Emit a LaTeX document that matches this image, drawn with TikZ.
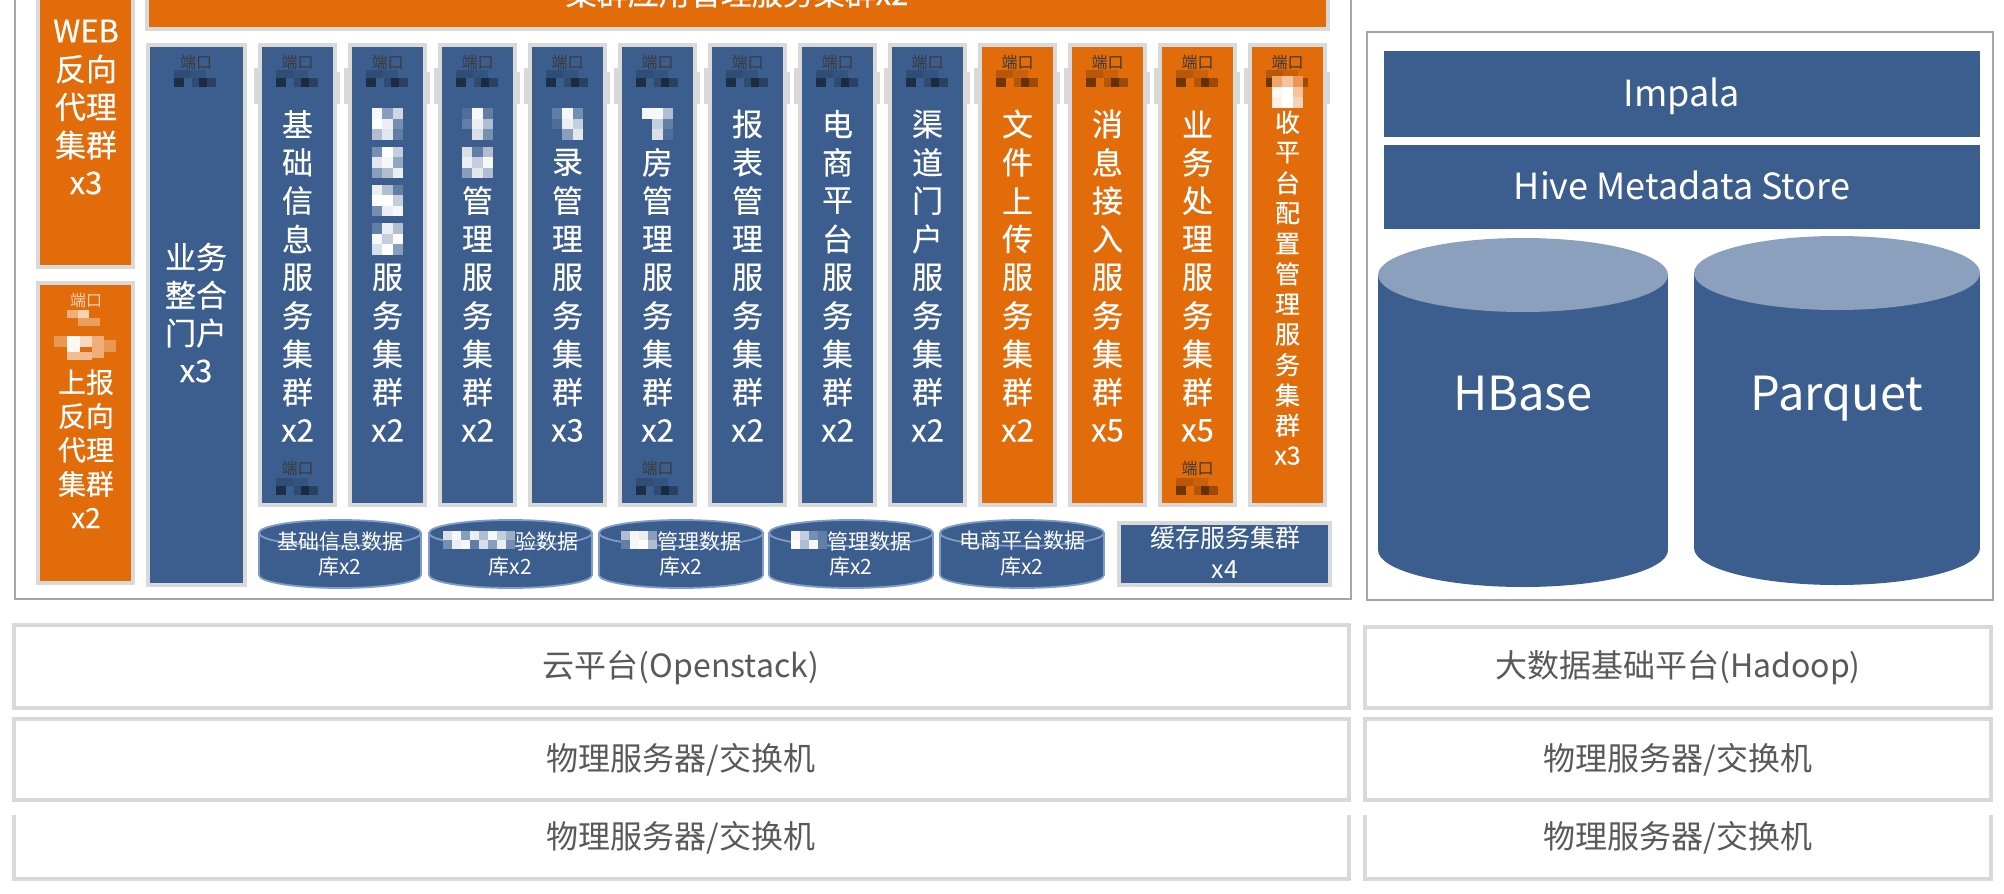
\documentclass[tikz,border=0pt]{standalone}
\usepackage{fontspec}
\setmainfont{Noto Sans CJK SC}[BoldFont={Noto Sans CJK SC}, BoldFeatures={FakeBold=0.35}]
\definecolor{cblue}{HTML}{3B5E8F}
\definecolor{corange}{HTML}{E26B0A}
\definecolor{ctop}{HTML}{8AA0BD}
\definecolor{ringc}{HTML}{D9D9D9}
\definecolor{framec}{HTML}{A6A6A6}
\definecolor{tgray}{HTML}{595959}
\definecolor{dbedge}{HTML}{7F9CC9}
\definecolor{portc}{HTML}{3A3A3A}
\colorlet{mzb}{cblue}
% mosaic (pixelated) cells
\newcommand\mzc[1]{\textcolor{white!#1!mzb}{\rule{5.2pt}{5.2pt}}}
\newcommand\mzW[9]{\vbox{\offinterlineskip\hbox{\mzc{#1}\mzc{#2}\mzc{#3}}\hbox{\mzc{#4}\mzc{#5}\mzc{#6}}\hbox{\mzc{#7}\mzc{#8}\mzc{#9}}}}
\newcommand\mzTwo[2]{\vbox{\offinterlineskip\hbox{#1}\hbox{#2}}}
\newcommand\mzs[1]{\textcolor{white!#1!mzb}{\rule{4.5pt}{4.5pt}}}
% box node from fill coordinates (pixels)
\newcommand\bx[7]{\node[#6, minimum width={(#4-#2)*0.5pt}, minimum height={(#5-#3)*0.5pt}] (#1) at ({(#2+#4)/2},{(#3+#5)/2}) {#7};}
% vertical column text
\newcommand\coltext[6]{\foreach \c [count=\k] in {#6} {\node[#5] (#1-\k) at (#2,{#3+#4*(\k-1)}) {\c};}}
% dark mosaic below a port label
\newcommand\portmz[2]{%
  \fill[black,opacity=.18] ({#1-22},#2) rectangle ({#1-5},{#2+8});
  \fill[black,opacity=.10] ({#1-5},#2) rectangle ({#1+10},{#2+8});
  \fill[black,opacity=.5] ({#1-22},{#2+8}) rectangle ({#1-12},{#2+17});
  \fill[black,opacity=.2] ({#1-4},{#2+8}) rectangle ({#1+3},{#2+17});
  \fill[black,opacity=.55] ({#1+3},{#2+8}) rectangle ({#1+11},{#2+17});
  \fill[black,opacity=.3] ({#1+11},{#2+8}) rectangle ({#1+20},{#2+17});
}
% small database cylinder
\newcommand\dbcyl[4]{%
  \pgfmathsetmacro\cx{(#2+#3)/2}\pgfmathsetmacro\rx{(#3-#2)/2}
  \fill[cblue] (#2,533) rectangle (#3,575);
  \fill[cblue] (\cx,575) ellipse [x radius=\rx, y radius=13];
  \draw[dbedge, line width=0.9pt] (#2,533) -- (#2,575) arc[start angle=180, end angle=0, x radius=\rx, y radius=13] -- (#3,533);
  \filldraw[fill=cblue, draw=dbedge, line width=0.9pt] (\cx,533) ellipse [x radius=\rx, y radius=13];
  \node[dbt] (#1-a) at (\cx,541) {#4};
  \node[dbt] (#1-b) at (\cx,567) {库x2};
}
% big storage cylinder
\newcommand\bigcyl[6]{%
  \fill[cblue] ({#2-#3},#4) rectangle ({#2+#3},#5);
  \fill[cblue] (#2,#5) ellipse [x radius=#3, y radius=37];
  \fill[ctop] (#2,#4) ellipse [x radius=#3, y radius=37];
  \node[bigt, anchor=base] (#1) at (#2,410) {#6};
}
\tikzset{
  every node/.style={inner sep=0pt, outer sep=0pt},
  bbox/.style={fill=cblue, draw=ringc, line width=1.75pt},
  obox/.style={fill=corange, draw=ringc, line width=1.75pt},
  flat/.style={fill=cblue},
  layer/.style={fill=white, draw=ringc, line width=2pt},
  wt/.style={text=white, font=\fontsize{15.5}{18}\selectfont\bfseries},
  wtm/.style={text=white, font=\fontsize{14}{16}\selectfont\bfseries},
  wts/.style={text=white, font=\fontsize{12.5}{15}\selectfont\bfseries},
  dbt/.style={text=white, font=\fontsize{10.5}{12}\selectfont},
  cachet/.style={text=white, font=\fontsize{12.5}{15}\selectfont},
  hdt/.style={text=white, font=\fontsize{18}{21}\selectfont},
  bigt/.style={text=white, font=\fontsize{23.5}{28}\selectfont},
  port/.style={text=portc, font=\fontsize{8}{9}\selectfont},
  lt/.style={text=tgray, font=\fontsize{16}{19}\selectfont},
}
\begin{document}
\begin{tikzpicture}[x=0.5pt,y=-0.5pt]
\useasboundingbox (0,0) rectangle (2004,894);
\clip (0,0) rectangle (2004,894);
\fill[white] (0,0) rectangle (2004,894);

% ---------- frames ----------
\draw[framec, line width=1.25pt] (15,-10) -- (15,599) -- (1351,599) -- (1351,-10);
\draw[framec, line width=1.25pt] (1367,32) rectangle (1993,600);

% ---------- top bar (its text is cut by the top edge, as in the source) ----------
\bx{topbar}{147}{-30}{1328}{29}{obox}{}
\node[wt, anchor=base] (toptext) at (737,5) {集群应用管理服务集群x2};

% ---------- WEB reverse proxy ----------
\bx{web}{38}{-30}{133}{267}{obox}{}
\coltext{webt}{86}{31}{38}{wt}{WEB,反向,代理,集群,x3}

% ---------- report reverse proxy ----------
\bx{sb}{38}{283}{133}{583}{obox}{}
\node[port, text=white!70!corange] (sbport) at (86,300) {端口};
\fill[white,opacity=.45] (67,310) rectangle (78,318);
\fill[white,opacity=.7] (78,310) rectangle (89,318);
\fill[white,opacity=.35] (78,318) rectangle (100,326);
\fill[white,opacity=.3] (54,336) rectangle (67,347);
\fill[white,opacity=.95] (67,336) rectangle (80,352);
\fill[white,opacity=.75] (80,336) rectangle (92,347);
\fill[white,opacity=.45] (92,336) rectangle (104,358);
\fill[white,opacity=.3] (104,340) rectangle (116,352);
\fill[white,opacity=.55] (67,352) rectangle (92,360);
\coltext{sbt}{86}{382}{34}{wtm}{上报,反向,代理,集群,x2}

% ---------- portal ----------
\bx{portal}{148}{45}{245}{585}{bbox}{}
\node[port] (portalport) at (196,62) {端口};
\portmz{196}{70}
\coltext{portalt}{196}{257}{38}{wt}{业务,整合,门户,x3}

% ---------- service columns ----------
\foreach \i in {0,...,11}{
  \pgfmathsetmacro\xl{260+90*\i}
  \pgfmathsetmacro\xr{335+90*\i}
  \pgfmathsetmacro\xc{297.5+90*\i}
  \ifnum\i<8 \colorlet{fc}{cblue}\else\colorlet{fc}{corange}\fi
  \fill[ringc] ({\xl-6},68) rectangle (\xl,104);
  \fill[ringc] (\xr,72) rectangle ({\xr+5},104);
  \bx{col\i}{\xl}{45}{\xr}{505}{bbox,fill=fc}{}
  \node[port] (port\i) at (\xc,62) {端口};
  \portmz{\xc}{70}
}
\foreach \i in {0,4,10}{
  \pgfmathsetmacro\xc{297.5+90*\i}
  \node[port] (bport\i) at (\xc,468) {端口};
  \portmz{\xc}{478}
}
\coltext{t0}{297.5}{124}{38.3}{wt}{基,础,信,息,服,务,集,群,x2}
\coltext{t1}{387.5}{124}{38.3}{wt}{\mzW{95}{40}{75}{100}{90}{30}{60}{85}{20},\mzW{30}{100}{70}{85}{95}{45}{40}{60}{90},\mzW{90}{60}{20}{100}{100}{70}{30}{90}{95},\mzW{20}{90}{60}{95}{70}{100}{80}{100}{40},服,务,集,群,x2}
\coltext{t2}{477.5}{124}{38.3}{wt}{\mzW{10}{95}{20}{20}{90}{60}{0}{80}{30},\mzW{80}{20}{60}{90}{70}{95}{40}{85}{60},管,理,服,务,集,群,x2}
\coltext{t3}{567.5}{124}{38.3}{wt}{\mzW{20}{95}{30}{10}{90}{70}{0}{40}{85},录,管,理,服,务,集,群,x3}
\coltext{t4}{657.5}{124}{38.3}{wt}{\mzW{95}{95}{60}{0}{70}{20}{0}{80}{10},房,管,理,服,务,集,群,x2}
\coltext{t5}{747.5}{124}{38.3}{wt}{报,表,管,理,服,务,集,群,x2}
\coltext{t6}{837.5}{124}{38.3}{wt}{电,商,平,台,服,务,集,群,x2}
\coltext{t7}{927.5}{124}{38.3}{wt}{渠,道,门,户,服,务,集,群,x2}
\coltext{t8}{1017.5}{124}{38.3}{wt}{文,件,上,传,服,务,集,群,x2}
\coltext{t9}{1107.5}{124}{38.3}{wt}{消,息,接,入,服,务,集,群,x5}
\coltext{t10}{1197.5}{124}{38.3}{wt}{业,务,处,理,服,务,集,群,x5}
\colorlet{mzb}{corange}
\coltext{t11}{1287.5}{92}{30.3}{wts}{\mzW{40}{60}{30}{95}{100}{60}{90}{100}{70},收,平,台,配,置,管,理,服,务,集,群,x3}
\colorlet{mzb}{cblue}

% ---------- databases ----------
\dbcyl{db1}{259}{421}{基础信息数据}
\dbcyl{db2}{429}{592}{\mzTwo{\mzs{80}\mzs{95}\mzs{40}\mzs{90}\mzs{60}\mzs{95}\mzs{70}\mzs{50}}{\mzs{30}\mzs{90}\mzs{95}\mzs{20}\mzs{80}\mzs{40}\mzs{90}\mzs{30}}验数据}
\dbcyl{db3}{599}{763}{\mzTwo{\mzs{60}\mzs{95}\mzs{90}\mzs{40}}{\mzs{20}\mzs{95}\mzs{100}\mzs{60}}管理数据}
\dbcyl{db4}{769}{933}{\mzTwo{\mzs{95}\mzs{70}\mzs{30}\mzs{20}}{\mzs{100}\mzs{60}\mzs{95}\mzs{20}}管理数据}
\dbcyl{db5}{940}{1104}{电商平台数据}
\bx{cache}{1119}{523}{1330}{585}{bbox}{}
\node[cachet] (cache-a) at (1225,538) {缓存服务集群};
\node[cachet] (cache-b) at (1225,570) {x4};

% ---------- big data side ----------
\bx{impala}{1384}{51}{1980}{137}{flat}{}
\node[hdt, anchor=base] (impalat) at (1682,106) {Impala};
\bx{hive}{1384}{145}{1980}{229}{flat}{}
\node[hdt, anchor=base] (hivet) at (1682,199) {Hive Metadata Store};
\bigcyl{hbase}{1523}{145}{275}{550}{HBase}
\bigcyl{parquet}{1837}{143}{273}{548}{Parquet}

% ---------- infrastructure layers ----------
\bx{cloud}{14}{625}{1349}{708}{layer}{}
\node[lt] (cloudt) at (681,668) {云平台(Openstack)};
\bx{phyA}{14}{719}{1349}{800}{layer}{}
\node[lt] (phyAt) at (681,760) {物理服务器/交换机};
\fill[white] (14,815) rectangle (1349,879);
\draw[ringc, line width=2pt] (14,815) -- (14,879) -- (1349,879) -- (1349,815);
\node[lt] (phyBt) at (681,838) {物理服务器/交换机};

\bx{hadoop}{1365}{627}{1991}{708}{layer}{}
\node[lt] (hadoopt) at (1678,668) {大数据基础平台(Hadoop)};
\bx{phyC}{1365}{719}{1991}{800}{layer}{}
\node[lt] (phyCt) at (1678,760) {物理服务器/交换机};
\fill[white] (1365,815) rectangle (1991,879);
\draw[ringc, line width=2pt] (1365,815) -- (1365,879) -- (1991,879) -- (1991,815);
\node[lt] (phyDt) at (1678,838) {物理服务器/交换机};
\end{tikzpicture}
\end{document}
